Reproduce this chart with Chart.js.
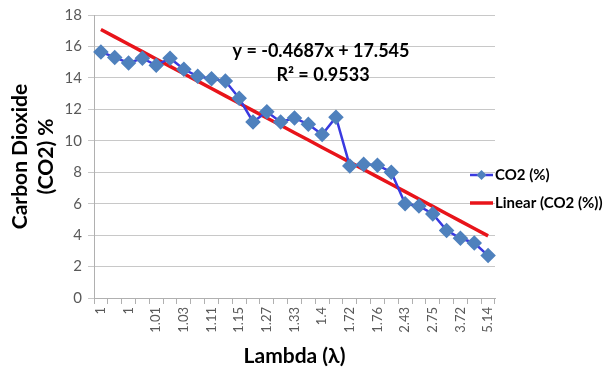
<!DOCTYPE html>
<html>
<head>
<meta charset="utf-8">
<script src="https://cdn.jsdelivr.net/npm/chart.js@4"></script>
<style>
  html, body { margin: 0; padding: 0; background: #fff; }
  #wrap { width: 614px; height: 369px; }
</style>
</head>
<body>
<div id="wrap"><canvas id="co2Chart" width="614" height="369"></canvas></div>
<script>
// lambda categories (only every other one is printed on the axis)
const lambdas = ['1', '1', '1', '1', '1.01', '1.02', '1.03', '1.07', '1.11', '1.13',
  '1.15', '1.2', '1.27', '1.3', '1.33', '1.37', '1.4', '1.55', '1.72', '1.74',
  '1.76', '2.1', '2.43', '2.6', '2.75', '3.2', '3.72', '4.4', '5.14'];
const co2 = [15.65, 15.3, 14.95, 15.25, 14.8, 15.25, 14.55, 14.1, 13.95, 13.8,
  12.7, 11.2, 11.85, 11.2, 11.45, 11.05, 10.4, 11.5, 8.4, 8.5,
  8.45, 8.0, 6.0, 5.85, 5.35, 4.3, 3.8, 3.5, 2.7];
const yTicks = [0, 2, 4, 6, 8, 10, 12, 14, 16, 18];
// trendline as printed on the chart
const slope = -0.4687;
const intercept = 17.545;
const rSquared = '0.9533';

const trend = co2.map((v, i) => slope * (i + 1) + intercept);

const FONT = 'Lato, "Open Sans", sans-serif';

const extras = {
  id: 'extras',
  afterDraw(chart) {
    const c = chart.ctx;
    c.save();
    // equation text
    c.fillStyle = '#000';
    c.font = 'bold 18px ' + FONT;
    c.textAlign = 'center';
    c.textBaseline = 'middle';
    c.fillText('y = ' + slope + 'x + ' + intercept, 321, 51);
    c.fillText('R² = ' + rSquared, 323, 75);

    // legend
    const lx = 470, ly1 = 175, ly2 = 203;
    c.lineWidth = 2.5;
    c.strokeStyle = '#3a3ae0';
    c.beginPath(); c.moveTo(lx, ly1); c.lineTo(lx + 23, ly1); c.stroke();
    c.fillStyle = '#4f81bd';
    c.beginPath();
    c.moveTo(lx + 11.5, ly1 - 5); c.lineTo(lx + 16.5, ly1);
    c.lineTo(lx + 11.5, ly1 + 5); c.lineTo(lx + 6.5, ly1); c.closePath(); c.fill();
    c.lineWidth = 3.5;
    c.strokeStyle = '#e8141a';
    c.beginPath(); c.moveTo(lx, ly2); c.lineTo(lx + 23, ly2); c.stroke();
    c.fillStyle = '#000';
    c.font = 'bold 15px ' + FONT;
    c.textAlign = 'left';
    c.fillText('CO2 (%)', lx + 25, ly1);
    c.fillText('Linear (CO2 (%))', lx + 25, ly2);
    c.restore();
  }
};

new Chart(document.getElementById('co2Chart').getContext('2d'), {
  type: 'line',
  data: {
    labels: lambdas,
    datasets: [{
      label: 'CO2 (%)',
      data: co2,
      borderColor: '#3a3ae0',
      borderWidth: 2.5,
      pointStyle: 'rectRot',
      pointRadius: 6,
      pointBackgroundColor: '#4f81bd',
      pointBorderColor: '#4f81bd',
      tension: 0
    }, {
      label: 'Linear (CO2 (%))',
      data: trend,
      borderColor: '#e8141a',
      borderWidth: 3.5,
      pointRadius: 0
    }]
  },
  options: {
    responsive: false,
    animation: false,
    layout: { padding: { top: 15, right: 119, left: 8, bottom: 0 } },
    plugins: { legend: { display: false }, tooltip: { enabled: false } },
    scales: {
      x: {
        offset: true,
        grid: { offset: true, drawOnChartArea: false, drawTicks: true, tickLength: 6, color: '#b0b0b0' },
        border: { color: '#b0b0b0' },
        ticks: {
          autoSkip: false,
          minRotation: 90,
          maxRotation: 90,
          color: '#595959',
          font: { family: FONT, size: 13 },
          callback(v, i) { return i % 2 === 0 ? lambdas[i] : ''; }
        },
        title: {
          display: true,
          text: 'Lambda (λ)',
          color: '#000',
          font: { family: FONT, size: 21, weight: 'bold' },
          padding: { top: 0, bottom: 0 }
        },
        afterFit(s) { s.height = 71; }
      },
      y: {
        min: 0,
        max: 18,
        afterBuildTicks(s) { s.ticks = yTicks.map(v => ({ value: v })); },
        grid: { color: '#c8c8c8', tickLength: 6, drawTicks: true },
        border: { color: '#b0b0b0' },
        ticks: {
          color: '#595959',
          font: { family: FONT, size: 15 },
          padding: 6
        },
        title: {
          display: true,
          text: ['Carbon Dioxide', '(CO2) %'],
          color: '#000',
          font: { family: FONT, size: 21, weight: 'bold' },
          padding: { top: 0, bottom: 2 }
        },
        afterFit(s) { s.width = 86; }
      }
    }
  },
  plugins: [extras]
});
</script>
</body>
</html>
